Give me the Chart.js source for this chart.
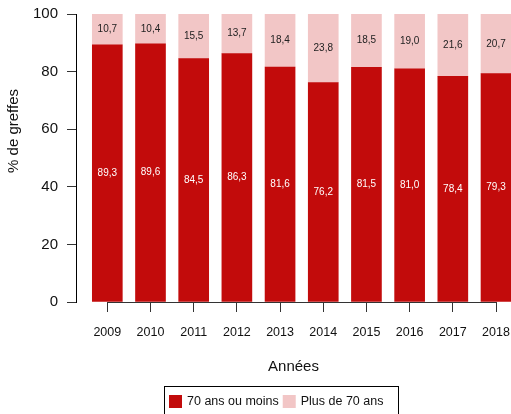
<!DOCTYPE html>
<html>
<head>
<meta charset="utf-8">
<script src="https://cdn.jsdelivr.net/npm/chart.js@4"></script>
<style>
  body { margin: 0; background: #fff; }
  #wrap { width: 511px; height: 414px; overflow: hidden; }
</style>
</head>
<body>
<div id="wrap"><canvas id="greffesChart" width="511" height="414"></canvas></div>
<script>
const years = [2009, 2010, 2011, 2012, 2013, 2014, 2015, 2016, 2017, 2018]
const moins70 = [89.3, 89.6, 84.5, 86.3, 81.6, 76.2, 81.5, 81.0, 78.4, 79.3]
const plus70 = [10.7, 10.4, 15.5, 13.7, 18.4, 23.8, 18.5, 19.0, 21.6, 20.7]
const yTicks = [0, 20, 40, 60, 80, 100]

const FONT = "'Liberation Sans', Arial, sans-serif"
const RED = '#c20b0b'
const PINK = '#f2c6c6'

// valeurs dans les barres
const barValues = {
  id: 'barValues',
  afterDatasetsDraw(chart) {
    const ctx = chart.ctx
    ctx.save()
    ctx.font = '10px ' + FONT
    ctx.textAlign = 'center'
    ctx.textBaseline = 'middle'
    chart.data.datasets.forEach((ds, i) => {
      chart.getDatasetMeta(i).data.forEach((bar, j) => {
        ctx.fillStyle = i === 0 ? '#ffffff' : '#222222'
        const txt = ds.data[j].toFixed(1).replace('.', ',')
        ctx.fillText(txt, bar.x, (bar.y + bar.base) / 2)
      })
    })
    ctx.restore()
  }
}

// ligne de l'axe x (du premier au dernier tick), titre y, legende encadree
const extras = {
  id: 'extras',
  afterDraw(chart) {
    const ctx = chart.ctx
    const x = chart.scales.x
    const y0 = Math.round(chart.chartArea.bottom) + 0.5
    ctx.save()
    ctx.strokeStyle = '#333'
    ctx.lineWidth = 1
    ctx.beginPath()
    ctx.moveTo(x.getPixelForValue(years[0]), y0)
    ctx.lineTo(x.getPixelForValue(years[years.length - 1]), y0)
    ctx.stroke()

    // titre de l'axe y
    ctx.save()
    ctx.translate(18, 131)
    ctx.rotate(-Math.PI / 2)
    ctx.font = '15px ' + FONT
    ctx.fillStyle = '#111'
    ctx.textAlign = 'center'
    ctx.textBaseline = 'alphabetic'
    ctx.fillText('% de greffes', 0, 0)
    ctx.restore()

    ctx.strokeStyle = '#000'
    ctx.strokeRect(164.5, 386.5, 234, 40)
    ctx.font = '12.5px ' + FONT
    ctx.textBaseline = 'middle'
    ctx.textAlign = 'left'
    let lx = 169
    chart.data.datasets.forEach(ds => {
      ctx.fillStyle = ds.backgroundColor
      ctx.fillRect(lx, 395, 13, 13)
      lx += 18
      ctx.fillStyle = '#111'
      ctx.fillText(ds.label, lx, 402)
      lx += ctx.measureText(ds.label).width + 4
    })
    ctx.restore()
  }
}

new Chart(document.getElementById('greffesChart'), {
  type: 'bar',
  data: {
    labels: years,
    datasets: [
      { label: '70 ans ou moins', data: moins70, backgroundColor: RED, borderWidth: 0, barThickness: 30 },
      { label: 'Plus de 70 ans', data: plus70, backgroundColor: PINK, borderWidth: 0, barThickness: 30 }
    ]
  },
  options: {
    responsive: false,
    animation: false,
    layout: { autoPadding: false, padding: { top: 14, right: 0, bottom: 27, left: 0 } },
    plugins: {
      legend: { display: false },
      tooltip: { enabled: false }
    },
    scales: {
      x: {
        type: 'linear',
        stacked: true,
        offset: false,
        min: 2008.275,
        max: 2018.347,
        afterBuildTicks: scale => { scale.ticks = years.map(v => ({ value: v })) },
        afterFit: scale => {
          scale.height = 85
          scale.paddingLeft = 0
          scale.paddingRight = 0
        },
        ticks: {
          callback: v => String(v),
          font: { family: FONT, size: 12.5 },
          color: '#111',
          padding: 13,
          maxRotation: 0,
          autoSkip: false
        },
        grid: { offset: false, drawOnChartArea: false, tickLength: 10, color: '#333' },
        border: { display: false },
        title: {
          display: true,
          text: 'Années',
          font: { family: FONT, size: 15 },
          color: '#111',
          padding: { top: 0, bottom: 11 }
        }
      },
      y: {
        stacked: true,
        min: 0,
        max: 100,
        afterBuildTicks: scale => { scale.ticks = yTicks.map(v => ({ value: v })) },
        afterFit: scale => {
          scale.width = 76
          scale.paddingTop = 0
          scale.paddingBottom = 0
        },
        ticks: {
          font: { family: FONT, size: 15 },
          color: '#111',
          padding: 9
        },
        grid: { drawOnChartArea: false, tickLength: 9, color: '#333' },
        border: { display: true, color: '#000', width: 1 },
        title: { display: false }
      }
    }
  },
  plugins: [barValues, extras]
})
</script>
</body>
</html>
